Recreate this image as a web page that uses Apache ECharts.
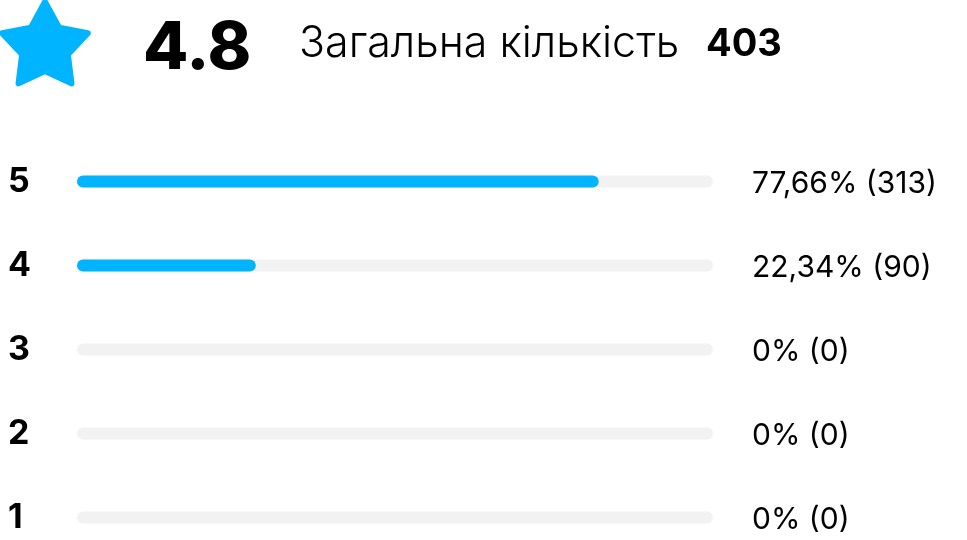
<!DOCTYPE html>
<html>
<head>
<meta charset="utf-8">
<script src="https://cdn.jsdelivr.net/npm/echarts@6/dist/echarts.min.js"></script>
<style>
html,body{margin:0;padding:0;background:#fff;}
#chart{width:967px;height:540px;}
</style>
</head>
<body>
<div id="chart"></div>
<script>
// ---- data ----
const ratings = ['5', '4', '3', '2', '1'];
const percents = [77.66, 22.34, 0, 0, 0];
const counts = [313, 90, 0, 0, 0];
const averageRating = ['4.8'];
const totalLabel = ['Загальна кількість'];
const totalCount = [403];

const BLUE = '#00B4FF';
const TRACK = '#F2F2F2';
const FONT = 'Inter, "Noto Sans", sans-serif';

function fmtPct(p) { return String(p).replace('.', ',') + '%'; }

// star decoration points
function starPoints(cx, cy, R, r) {
  const pts = [];
  for (let i = 0; i < 10; i++) {
    const a = -Math.PI / 2 + i * Math.PI / 5;
    const rad = i % 2 === 0 ? R : r;
    pts.push([cx + rad * Math.cos(a), cy + rad * Math.sin(a)]);
  }
  return pts;
}

const chart = echarts.init(document.getElementById('chart'), null, {renderer: 'canvas'});
chart.setOption({
  animation: false,
  backgroundColor: '#ffffff',
  grid: {
    left: 77, width: 636, top: 139.5, height: 420,
    containLabel: false, outerBoundsMode: 'none'
  },
  xAxis: {
    type: 'value', min: -6.5, max: 96.1, show: false
  },
  yAxis: {
    type: 'category', data: ratings, inverse: true,
    axisLine: {show: false}, axisTick: {show: false}, splitLine: {show: false},
    axisLabel: {
      align: 'left', margin: 69, color: '#000', fontFamily: FONT,
      fontSize: 34, fontWeight: 'bold'
    }
  },
  series: [{
    type: 'custom',
    data: percents.map((p, i) => [p, i]),
    encode: {x: 0, y: 1},
    clip: false,
    renderItem: function (params, api) {
      const cs = params.coordSys;
      const v = api.value(0);
      const pt = api.coord([v, api.value(1)]);
      const h = 12;
      const children = [{
        type: 'rect',
        shape: {x: cs.x, y: pt[1] - h / 2, width: cs.width, height: h, r: h / 2},
        style: {fill: TRACK}
      }];
      if (v > 0) {
        children.push({
          type: 'rect',
          shape: {x: cs.x, y: pt[1] - h / 2, width: pt[0] - cs.x, height: h, r: h / 2},
          style: {fill: BLUE}
        });
      }
      const idx = params.dataIndex;
      children.push({
        type: 'text',
        style: {
          x: cs.x + cs.width + 39, y: pt[1] + 2,
          text: fmtPct(percents[idx]) + ' (' + counts[idx] + ')',
          fill: '#000', font: '400 30px ' + FONT,
          align: 'left', textAlign: 'left',
          verticalAlign: 'middle', textVerticalAlign: 'middle'
        }
      });
      return {type: 'group', children: children};
    }
  }],
  graphic: [
    {
      type: 'polygon',
      shape: {points: starPoints(45, 47, 45, 24)},
      style: {fill: BLUE, stroke: BLUE, lineWidth: 6, lineJoin: 'round'}
    },
    {
      type: 'text', left: 143, top: 16,
      style: {text: averageRating[0], fill: '#000', font: '800 66px ' + FONT}
    },
    {
      type: 'text', left: 299, top: 23,
      style: {text: totalLabel[0], fill: '#000', font: '300 43px ' + FONT}
    },
    {
      type: 'text', left: 706, top: 26,
      style: {text: String(totalCount[0]), fill: '#000', font: '700 38px ' + FONT}
    }
  ]
});
</script>
</body>
</html>
